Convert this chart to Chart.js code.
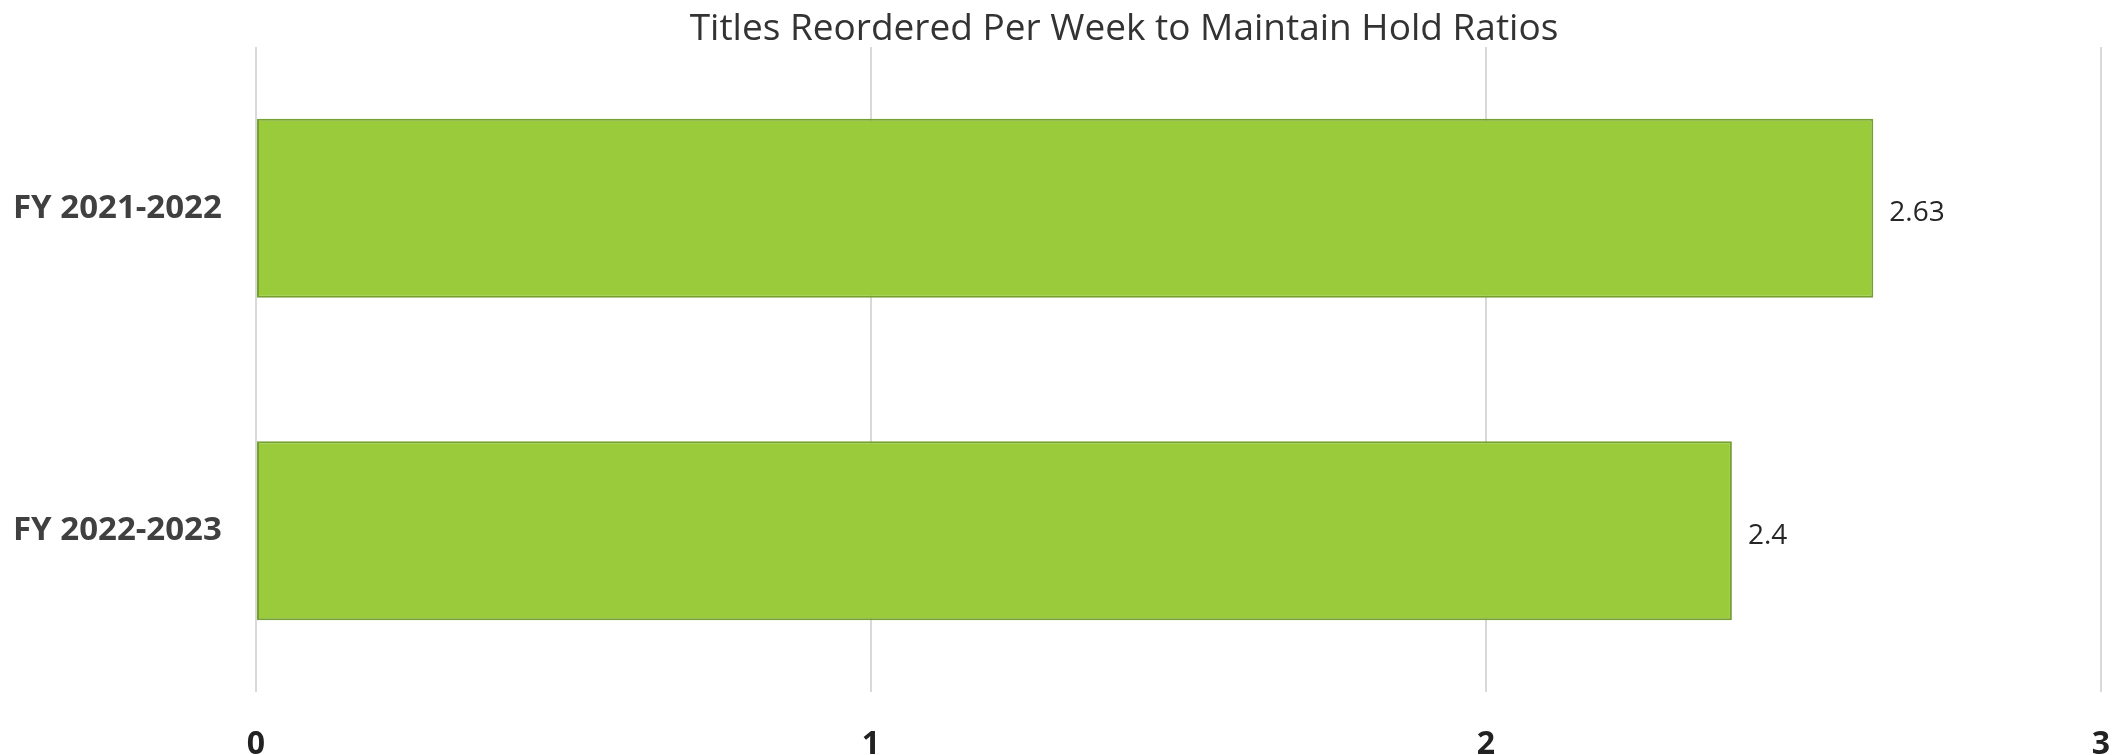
<!DOCTYPE html>
<html>
<head>
<meta charset="utf-8">
<script src="https://cdn.jsdelivr.net/npm/chart.js@4/dist/chart.umd.min.js"></script>
<style>
  html, body { margin: 0; padding: 0; background: #fff; }
  #wrap { width: 2124px; height: 755px; }
</style>
</head>
<body>
<div id="wrap"><canvas id="c" width="2124" height="755"></canvas></div>
<script>
const TITLE = 'Titles Reordered Per Week to Maintain Hold Ratios';
const categories = ['FY 2021-2022', 'FY 2022-2023'];
const values = [2.63, 2.4];
const xTicks = [0, 1, 2, 3];

const FONT = "'Open Sans', 'Noto Sans', sans-serif";
const GRID = '#d9d9d9';

// title sits a bit right of canvas centre in the original
const titlePlugin = {
  id: 'excelTitle',
  afterDraw(chart) {
    const ctx = chart.ctx;
    ctx.save();
    ctx.font = `37px ${FONT}`;
    ctx.fillStyle = '#333333';
    ctx.textAlign = 'center';
    ctx.textBaseline = 'alphabetic';
    ctx.fillText(TITLE, 1124, 40);
    ctx.restore();
  }
};

const valueLabels = {
  id: 'valueLabels',
  afterDatasetsDraw(chart) {
    const ctx = chart.ctx;
    const meta = chart.getDatasetMeta(0);
    ctx.save();
    ctx.font = `28px ${FONT}`;
    ctx.fillStyle = '#262626';
    ctx.textAlign = 'left';
    ctx.textBaseline = 'middle';
    meta.data.forEach((bar, i) => {
      ctx.fillText(String(values[i]), bar.x + 16, bar.y + 5);
    });
    ctx.restore();
  }
};

new Chart(document.getElementById('c'), {
  type: 'bar',
  data: {
    labels: categories,
    datasets: [{
      data: values,
      backgroundColor: '#9acb3b',
      borderColor: '#76a032',
      borderWidth: 2,
      borderSkipped: false,
      barPercentage: 0.555,
      categoryPercentage: 1
    }]
  },
  options: {
    indexAxis: 'y',
    responsive: false,
    animation: false,
    layout: { padding: { top: 47, right: 23, left: 13, bottom: 0 } },
    plugins: { legend: { display: false }, tooltip: { enabled: false }, title: { display: false } },
    scales: {
      x: {
        min: 0, max: 3,
        afterFit: (s) => { s.height = 63; },
        afterBuildTicks: (s) => { s.ticks = xTicks.map(v => ({ value: v })); },
        border: { display: false },
        // invisible tick marks push the labels down without widening the side padding
        grid: { color: GRID, lineWidth: 2, drawTicks: true, tickLength: 20, tickColor: 'rgba(0,0,0,0)' },
        ticks: {
          padding: 14,
          color: '#222222',
          font: { family: FONT, size: 32, weight: 'bold' }
        }
      },
      y: {
        afterFit: (s) => { s.width = 243; },
        border: { display: false },
        grid: { display: false, drawTicks: false },
        ticks: {
          padding: 0,
          crossAlign: 'far',
          color: '#404040',
          font: { family: FONT, size: 33, weight: 'bold', lineHeight: 1.1 }
        }
      }
    }
  },
  plugins: [titlePlugin, valueLabels]
});
</script>
</body>
</html>
